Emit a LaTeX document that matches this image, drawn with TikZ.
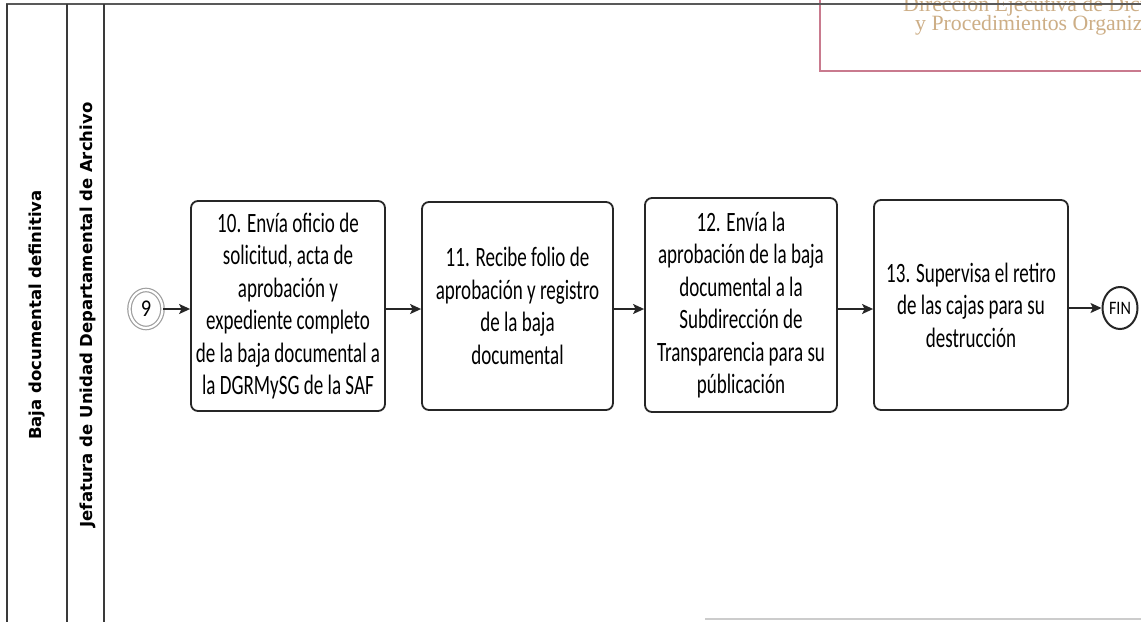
\documentclass[tikz,border=0pt]{standalone}
\usepackage{fontspec}
\setmainfont{Carlito}[FakeStretch=0.68]
\newfontfamily\lanefont{DejaVu Sans}
\newfontfamily\headfont{Liberation Serif}
\newfontfamily\eventfont{Carlito}[FakeStretch=0.85]
\usetikzlibrary{arrows.meta,shapes.geometric}
\definecolor{laneline}{HTML}{3A3A3A}
\definecolor{boxline}{HTML}{262626}
\definecolor{headframe}{HTML}{C97A8E}
\definecolor{headtext}{HTML}{CDAE86}
\tikzset{
  stepbox/.style={draw=boxline, line width=1.8pt, rounded corners=7pt,
    align=center, inner sep=2pt,
    font=\fontsize{28}{32.5}\selectfont},
  flowarrow/.style={draw=boxline, line width=1.5pt,
    -{Stealth[length=11pt,width=10pt,inset=2.5pt]}},
  lanelabel/.style={rotate=90, font=\lanefont\bfseries\fontsize{16.5}{18}\selectfont},
  laneline/.style={draw=laneline, line width=1.6pt},
  headline/.style={anchor=base west, inner sep=0pt, text=headtext,
    font=\headfont\fontsize{21.8}{21.8}\selectfont}
}
\begin{document}
\begin{tikzpicture}[x=1pt, y=-1pt]
\useasboundingbox (0,0) rectangle (1141,622);
\clip (0,0) rectangle (1141,622);
\fill[white] (0,0) rectangle (1141,622);

% header box (top right)
\draw[headframe, line width=1.8pt] (820,-10) -- (820,71) -- (1150,71);
\node[headline] (head1) at (903,11) {Dirección Ejecutiva de Dictaminación};
\node[headline] (head2) at (915,30) {y Procedimientos Organizacionales};

% pool and lane frame
\draw[laneline, draw=gray!70!black] (6,4) -- (1141,4);
\draw[laneline] (7,4) -- (7,622);
\draw[laneline] (67,4) -- (67,622);
\draw[laneline] (104,4) -- (104,622);
\draw[gray!40, line width=1.6pt] (705,619) -- (1141,619);

\node[lanelabel] (pool) at (37,315) {Baja documental definitiva};
\node[lanelabel] (lane) at (88,315) {Jefatura de Unidad Departamental de Archivo};

% start link event and end event
\node[ellipse, draw=gray!75, line width=1.2pt, double, double distance=2.2pt,
  minimum width=33pt, minimum height=38pt, inner sep=0pt,
  font=\eventfont\fontsize{24}{24}\selectfont] (s9) at (146,309) {9};
\node[ellipse, draw=boxline, line width=2pt,
  minimum width=35pt, minimum height=42pt, inner sep=0pt,
  font=\eventfont\fontsize{19}{19}\selectfont] (fin) at (1120,308) {FIN};

% activities
\node[stepbox, minimum width=194pt, minimum height=210pt] (b10) at (288,306)
  {10. Envía oficio de\\ solicitud, acta de\\ aprobación y\\ expediente completo\\
   de la baja documental a\\ la DGRMySG de la SAF};
\node[stepbox, minimum width=191pt, minimum height=208pt] (b11) at (517.5,306)
  {11. Recibe folio de\\ aprobación y registro\\ de la baja\\ documental};
\node[stepbox, minimum width=192pt, minimum height=214pt] (b12) at (741,305)
  {12. Envía la\\ aprobación de la baja\\ documental a la\\ Subdirección de\\
   Transparencia para su\\ públicación};
\node[stepbox, minimum width=194pt, minimum height=210pt] (b13) at (971,305)
  {13. Supervisa el retiro\\ de las cajas para su\\ destrucción};

% sequence flows
\draw[flowarrow] (s9.east) -- (s9.east -| b10.west);
\draw[flowarrow] (b10.east |- s9.east) -- (b11.west |- s9.east);
\draw[flowarrow] (b11.east |- s9.east) -- (b12.west |- s9.east);
\draw[flowarrow] (b12.east |- s9.east) -- (b13.west |- s9.east);
\draw[flowarrow] (b13.east |- fin.west) -- (fin.west);
\end{tikzpicture}
\end{document}
